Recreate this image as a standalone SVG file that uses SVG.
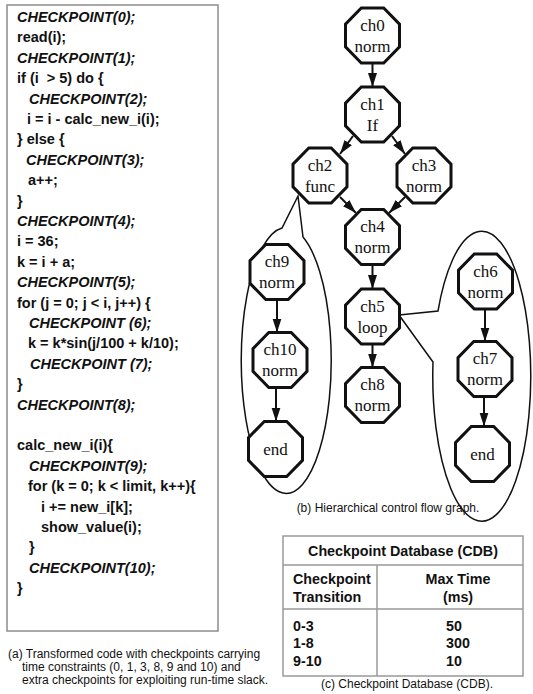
<svg xmlns="http://www.w3.org/2000/svg" xmlns:xlink="http://www.w3.org/1999/xlink" width="533" height="694" viewBox="0 0 533 694">
<style>
.code{font-family:"Liberation Sans",Arial,sans-serif;font-size:14.5px;font-weight:bold;fill:#111;white-space:pre}
.it{font-style:italic}
.cap{font-family:"Liberation Sans",Arial,sans-serif;font-size:12px;fill:#111}
.tb{font-family:"Liberation Sans",Arial,sans-serif;font-size:14.3px;font-weight:bold;fill:#111}
.nt{font-family:"Liberation Serif","Times New Roman",serif;font-size:17px;fill:#111;text-anchor:middle}
.oct{fill:#fff;stroke:#111;stroke-width:3;stroke-linejoin:miter}
.edge{stroke:#111;stroke-width:2;fill:none}
.oval{stroke:#111;stroke-width:1.5;fill:none}
.grid{stroke:#999;stroke-width:1.5;fill:none}
</style>
<defs>
<polygon id="octshape" points="-11.2,-27.5 11.2,-27.5 27,-11.4 27,11.4 11.2,27.5 -11.2,27.5 -27,11.4 -27,-11.4"/>
<marker id="ah" markerUnits="userSpaceOnUse" markerWidth="15" markerHeight="10" refX="14" refY="4.5" orient="auto">
<path d="M0,0 L14,4.5 L0,9 z" fill="#111"/>
</marker>
</defs>
<rect width="533" height="694" fill="#fff"/>

<g id="code">
<rect x="7" y="5" width="211" height="626" fill="#fff" stroke="#8c8c8c" stroke-width="1.5"/>
<text class="code it" x="17" y="22">CHECKPOINT(0);</text>
<text class="code" x="17" y="42.4">read(i);</text>
<text class="code it" x="17" y="62.8">CHECKPOINT(1);</text>
<text class="code" x="17" y="83.2">if (i  &gt; 5) do {</text>
<text class="code it" x="29" y="103.6">CHECKPOINT(2);</text>
<text class="code" x="27" y="124">i = i - calc_new_i(i);</text>
<text class="code" x="17" y="144.4">} else {</text>
<text class="code it" x="26" y="164.8">CHECKPOINT(3);</text>
<text class="code" x="28" y="185.2">a++;</text>
<text class="code" x="17" y="205.6">}</text>
<text class="code it" x="17" y="226">CHECKPOINT(4);</text>
<text class="code" x="17" y="246.4">i = 36;</text>
<text class="code" x="17" y="266.8">k = i + a;</text>
<text class="code it" x="17" y="287.2">CHECKPOINT(5);</text>
<text class="code" x="17" y="307.6">for (j = 0; j &lt; i, j++) {</text>
<text class="code it" x="29" y="328">CHECKPOINT (6);</text>
<text class="code" x="28" y="348.4">k = k*sin(j/100 + k/10);</text>
<text class="code it" x="30" y="368.8">CHECKPOINT (7);</text>
<text class="code" x="17" y="389.2">}</text>
<text class="code it" x="17" y="409.6">CHECKPOINT(8);</text>
<text class="code" x="17" y="450.4">calc_new_i(i){</text>
<text class="code it" x="29" y="470.8">CHECKPOINT(9);</text>
<text class="code" x="28" y="491.2">for (k = 0; k &lt; limit, k++){</text>
<text class="code" x="41" y="511.6">i += new_i[k];</text>
<text class="code" x="41" y="532">show_value(i);</text>
<text class="code" x="29" y="552.4">}</text>
<text class="code it" x="29" y="572.8">CHECKPOINT(10);</text>
<text class="code" x="17" y="593.2">}</text>
</g>

<g id="caption-a">
<text class="cap" x="8" y="658">(a) Transformed code with checkpoints carrying</text>
<text class="cap" x="22" y="671">time constraints (0, 1, 3, 8, 9 and 10) and</text>
<text class="cap" x="22" y="684">extra checkpoints for exploiting run-time slack.</text>
</g>

<g id="ovals">
<path class="oval" d="M298,196 L282,228 A45,133 0 1,0 303,237 Z"/>
<path class="oval" d="M399,315 L438,311 A49,145 0 1,1 433,362 Z"/>
</g>

<g id="connectors">
<line class="edge" x1="372.5" y1="63" x2="372.5" y2="87" marker-end="url(#ah)"/>
<line class="edge" x1="353" y1="136" x2="340" y2="154" marker-end="url(#ah)"/>
<line class="edge" x1="392" y1="136" x2="405" y2="154" marker-end="url(#ah)"/>
<line class="edge" x1="340" y1="197" x2="356" y2="213" marker-end="url(#ah)"/>
<line class="edge" x1="405" y1="197" x2="389" y2="213" marker-end="url(#ah)"/>
<line class="edge" x1="372.5" y1="264.5" x2="372.5" y2="289" marker-end="url(#ah)"/>
<line class="edge" x1="372.5" y1="344" x2="372.5" y2="367.5" marker-end="url(#ah)"/>
<line class="edge" x1="277" y1="299.5" x2="277" y2="332.5" marker-end="url(#ah)"/>
<line class="edge" x1="276" y1="387.5" x2="276" y2="421.5" marker-end="url(#ah)"/>
<line class="edge" x1="485" y1="309" x2="485" y2="341.5" marker-end="url(#ah)"/>
<line class="edge" x1="484" y1="396.5" x2="484" y2="426.5" marker-end="url(#ah)"/>
</g>

<g id="ch0"><use xlink:href="#octshape" class="oct" x="372.5" y="35.5"/><text class="nt" x="372.5" y="30.5">ch0</text><text class="nt" x="372.5" y="51.5">norm</text></g>
<g id="ch1"><use xlink:href="#octshape" class="oct" x="372.5" y="114.5"/><text class="nt" x="372.5" y="109.5">ch1</text><text class="nt" x="372.5" y="130.5">If</text></g>
<g id="ch2"><use xlink:href="#octshape" class="oct" x="320" y="175.5"/><text class="nt" x="320" y="170.5">ch2</text><text class="nt" x="320" y="191.5">func</text></g>
<g id="ch3"><use xlink:href="#octshape" class="oct" x="424" y="175.5"/><text class="nt" x="424" y="170.5">ch3</text><text class="nt" x="424" y="191.5">norm</text></g>
<g id="ch4"><use xlink:href="#octshape" class="oct" x="372.5" y="237"/><text class="nt" x="372.5" y="232">ch4</text><text class="nt" x="372.5" y="253">norm</text></g>
<g id="ch5"><use xlink:href="#octshape" class="oct" x="372.5" y="316.5"/><text class="nt" x="372.5" y="311.5">ch5</text><text class="nt" x="372.5" y="332.5">loop</text></g>
<g id="ch8"><use xlink:href="#octshape" class="oct" x="372.5" y="395"/><text class="nt" x="372.5" y="390">ch8</text><text class="nt" x="372.5" y="411">norm</text></g>
<g id="ch9"><use xlink:href="#octshape" class="oct" x="277" y="272"/><text class="nt" x="277" y="267">ch9</text><text class="nt" x="277" y="288">norm</text></g>
<g id="ch10"><use xlink:href="#octshape" class="oct" x="280" y="360"/><text class="nt" x="280" y="355">ch10</text><text class="nt" x="280" y="376">norm</text></g>
<g id="end1"><use xlink:href="#octshape" class="oct" x="275.5" y="449"/><text class="nt" x="275.5" y="455">end</text></g>
<g id="ch6"><use xlink:href="#octshape" class="oct" x="485.5" y="281.5"/><text class="nt" x="485.5" y="276.5">ch6</text><text class="nt" x="485.5" y="297.5">norm</text></g>
<g id="ch7"><use xlink:href="#octshape" class="oct" x="485" y="369"/><text class="nt" x="485" y="364">ch7</text><text class="nt" x="485" y="385">norm</text></g>
<g id="end2"><use xlink:href="#octshape" class="oct" x="482.5" y="454"/><text class="nt" x="482.5" y="460">end</text></g>

<g id="caption-b">
<text class="cap" x="388" y="512" text-anchor="middle">(b) Hierarchical control flow graph.</text>
</g>

<g id="table">
<rect class="grid" x="283" y="536" width="240" height="140"/>
<line class="grid" x1="283" y1="565" x2="523" y2="565"/>
<line class="grid" x1="283" y1="609" x2="523" y2="609"/>
<line class="grid" x1="377" y1="565" x2="377" y2="676"/>
<text class="tb" x="403" y="556" text-anchor="middle">Checkpoint Database (CDB)</text>
<text class="tb" x="293" y="584">Checkpoint</text>
<text class="tb" x="293" y="602">Transition</text>
<text class="tb" x="458" y="584" text-anchor="middle">Max Time</text>
<text class="tb" x="458" y="602" text-anchor="middle">(ms)</text>
<text class="tb" x="293" y="631">0-3</text>
<text class="tb" x="293" y="648">1-8</text>
<text class="tb" x="293" y="666">9-10</text>
<text class="tb" x="446" y="631">50</text>
<text class="tb" x="446" y="648">300</text>
<text class="tb" x="446" y="666">10</text>
</g>

<g id="caption-c">
<text class="cap" x="407" y="688" text-anchor="middle">(c) Checkpoint Database (CDB).</text>
</g>
</svg>
